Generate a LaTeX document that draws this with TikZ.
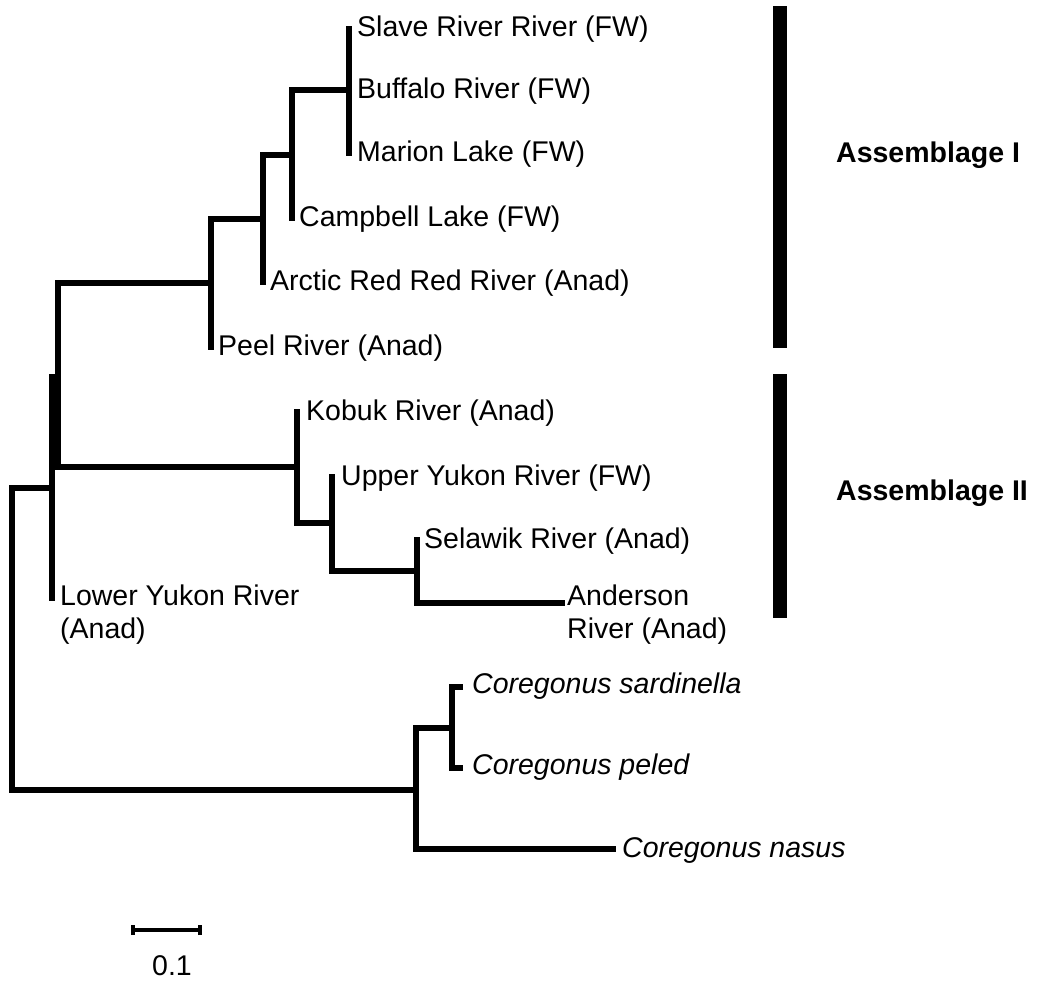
\documentclass[tikz,border=0pt]{standalone}
\usepackage{fontspec}
\setmainfont{Liberation Sans}
\begin{document}
\begin{tikzpicture}[x=1pt,y=-1pt,
  br/.style={line width=5.5pt, line cap=rect},
  lbl/.style={anchor=base west, inner sep=0pt, font=\fontsize{28.5}{33}\selectfont, align=left},
  ilbl/.style={lbl, font=\fontsize{28.5}{33}\selectfont\itshape},
  asm/.style={anchor=base west, inner sep=0pt, font=\fontsize{28.5}{33}\selectfont\bfseries},
  scl/.style={line width=3.5pt}]
\useasboundingbox (0,0) rectangle (1062,982);
% tree nodes
\coordinate (root) at (12,639);
\coordinate (A) at (52,488);
\coordinate (B) at (58,377);
\coordinate (C) at (211,283);
\coordinate (D) at (263,219);
\coordinate (E) at (292,155);
\coordinate (F) at (349,90);
\coordinate (slave) at (349,29);
\coordinate (buffalo) at (349,90);
\coordinate (marion) at (349,153);
\coordinate (campbell) at (292,218);
\coordinate (arctic) at (263,282);
\coordinate (peel) at (211,347);
\coordinate (G) at (297,467);
\coordinate (kobuk) at (297,412);
\coordinate (H) at (332,523);
\coordinate (upper) at (332,477);
\coordinate (I) at (417,571);
\coordinate (selawik) at (417,540);
\coordinate (anderson) at (562,603);
\coordinate (lower) at (52,598);
\coordinate (J) at (416,790);
\coordinate (K) at (452,728);
\coordinate (sard) at (460,687);
\coordinate (peled) at (460,768);
\coordinate (nasus) at (613,849);
% branches
\draw[br] (root) |- (A);
\draw[br] (root) |- (J);
\draw[br] (A) |- (B);
\draw[br] (A) |- (lower);
\draw[br] (B) |- (C);
\draw[br] (B) |- (G);
\draw[br] (C) |- (D);
\draw[br] (C) |- (peel);
\draw[br] (D) |- (E);
\draw[br] (D) |- (arctic);
\draw[br] (E) |- (F);
\draw[br] (E) |- (campbell);
\draw[br] (F) |- (slave);
\draw[br] (F) |- (marion);
\draw[br] (G) |- (kobuk);
\draw[br] (G) |- (H);
\draw[br] (H) |- (upper);
\draw[br] (H) |- (I);
\draw[br] (I) |- (selawik);
\draw[br] (I) |- (anderson);
\draw[br] (J) |- (K);
\draw[br] (J) |- (nasus);
\draw[br] (K) |- (sard);
\draw[br] (K) |- (peled);
% leaf labels
\node[lbl] (tslave) at ([shift={(8,8)}]slave) {Slave River River (FW)};
\node[lbl] (tbuffalo) at ([shift={(8,8)}]buffalo) {Buffalo River (FW)};
\node[lbl] (tmarion) at ([shift={(8,8)}]marion) {Marion Lake (FW)};
\node[lbl] (tcampbell) at ([shift={(7,8)}]campbell) {Campbell Lake (FW)};
\node[lbl] (tarctic) at ([shift={(7,8)}]arctic) {Arctic Red Red River (Anad)};
\node[lbl] (tpeel) at ([shift={(7,8)}]peel) {Peel River (Anad)};
\node[lbl] (tkobuk) at ([shift={(9,8)}]kobuk) {Kobuk River (Anad)};
\node[lbl] (tupper) at ([shift={(9,8)}]upper) {Upper Yukon River (FW)};
\node[lbl] (tselawik) at ([shift={(7,8)}]selawik) {Selawik River (Anad)};
\node[lbl] (tanderson) at ([shift={(5,35)}]anderson) {Anderson\\River (Anad)};
\node[lbl] (tlower) at ([shift={(8,40)}]lower) {Lower Yukon River\\(Anad)};
\node[ilbl] (tsard) at ([shift={(12,6)}]sard) {Coregonus sardinella};
\node[ilbl] (tpeled) at ([shift={(12,6)}]peled) {Coregonus peled};
\node[ilbl] (tnasus) at ([shift={(9,8)}]nasus) {Coregonus nasus};
% assemblage bars
\coordinate (b1t) at (773,6);
\coordinate (b1b) at (787,348);
\coordinate (b2t) at (773,374);
\coordinate (b2b) at (787,618);
\fill (b1t) rectangle (b1b);
\fill (b2t) rectangle (b2b);
\node[asm] (as1) at (836,162) {Assemblage I};
\node[asm] (as2) at (836,500) {Assemblage II};
% scale bar
\coordinate (s1) at (133,930);
\coordinate (s2) at (200,930);
\draw[scl] (s1) -- (s2);
\draw[scl] ([yshift=-5pt]s1) -- ([yshift=5pt]s1);
\draw[scl] ([yshift=-5pt]s2) -- ([yshift=5pt]s2);
\node[anchor=base, inner sep=0pt, font=\fontsize{28.5}{33}\selectfont] (sl) at (172,975) {0.1};
\end{tikzpicture}
\end{document}
